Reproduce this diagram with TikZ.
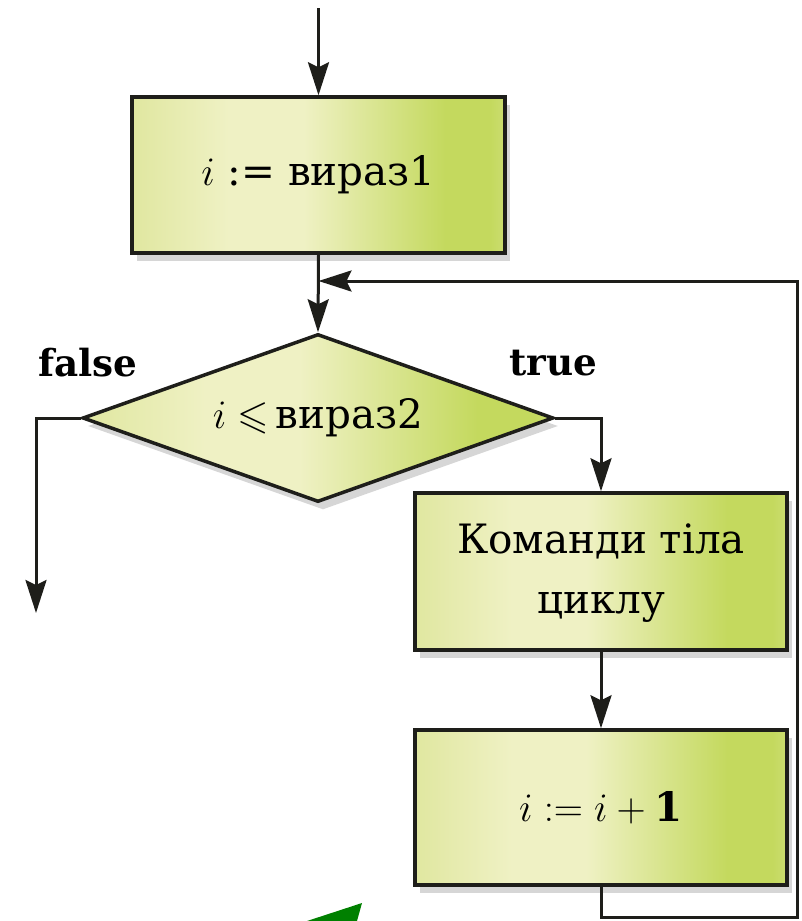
\documentclass[tikz,border=0pt]{standalone}
\usepackage{fontspec}
\setmainfont{DejaVu Serif}
\usepackage{amssymb}
\usepackage{graphicx}
\usetikzlibrary{shapes.geometric,arrows.meta,shadows}
\definecolor{lineC}{HTML}{1E1E1A}
\definecolor{gA}{HTML}{E0E7A0}
\definecolor{gB}{HTML}{EFF1C4}
\definecolor{gC}{HTML}{C4D95E}
\definecolor{gD}{HTML}{CBDD70}
\definecolor{arrowgreen}{RGB}{0,128,0}
\pgfdeclarehorizontalshading{boxsh}{100bp}{color(0bp)=(gA); color(25bp)=(gA); color(38bp)=(gB); color(48bp)=(gB); color(67bp)=(gC); color(73bp)=(gC); color(75bp)=(gD); color(100bp)=(gD)}
\newcommand\bigtxt[1]{\scalebox{1.95}{\fontsize{20.74}{31}\selectfont #1}}
\newcommand\lbltxt[1]{\scalebox{1.8}{\fontsize{20.74}{25}\selectfont\bfseries #1}}
\tikzset{
  shadowed/.style={drop shadow={fill=black, opacity=0.16, shadow xshift=5pt, shadow yshift=-8pt}},
  procbox/.style={rectangle, draw=lineC, line width=3.5pt, shading=boxsh, inner sep=0pt, shadowed},
  decbox/.style={diamond, draw=lineC, line width=3.5pt, shading=boxsh, inner sep=0pt, aspect=2.8, shadowed},
  conn/.style={draw=lineC, line width=3pt, -{Stealth[length=33pt,width=21pt,inset=5pt]}},
  lbl/.style={inner sep=0pt}
}
\begin{document}
\begin{tikzpicture}[x=1pt,y=-1pt]
\useasboundingbox (0,0) rectangle (801,921);
\node[procbox, minimum width=373pt, minimum height=156pt] (b1) at (318.5,175) {\bigtxt{$i$ := вираз1}};
\node[decbox, minimum width=471pt, minimum height=168pt] (d) at (318,418) {\bigtxt{$i\leqslant$\,вираз2}};
\node[procbox, minimum width=372pt, minimum height=157pt] (b2) at (601,571.5) {\bigtxt{\begin{tabular}{@{}c@{}}Команди тіла\\циклу\end{tabular}}};
\node[procbox, minimum width=372pt, minimum height=155pt] (b3) at (601,807.5) {\bigtxt{$i \mathrel{:=} i + \mathbf{1}$}};
\node[lbl] (lf) at (88,363) {\lbltxt{false}};
\node[lbl] (ltr) at (553,363) {\lbltxt{true}};
\coordinate (start) at (318.5,8);
\coordinate (fcorner) at (36,418);
\coordinate (fend) at (36,613);
\coordinate (lb) at (601,917);
\coordinate (rb) at (797,917);
\coordinate (rt) at (797,281);
\coordinate (join) at (318.5,281);
\draw[conn] (start) -- (b1.north);
\draw[conn] (b1.south) -- (d.north);
\draw[conn] (d.west) -- (fcorner) -- (fend);
\draw[conn] (d.east) -| (b2.north);
\draw[conn] (b2.south) -- (b3.north);
\draw[conn] (b3.south) -- (lb) -- (rb) -- (rt) -- (join);
\fill[arrowgreen] (307,921) -- (362,903) -- (357,921) -- cycle;
\end{tikzpicture}
\end{document}
